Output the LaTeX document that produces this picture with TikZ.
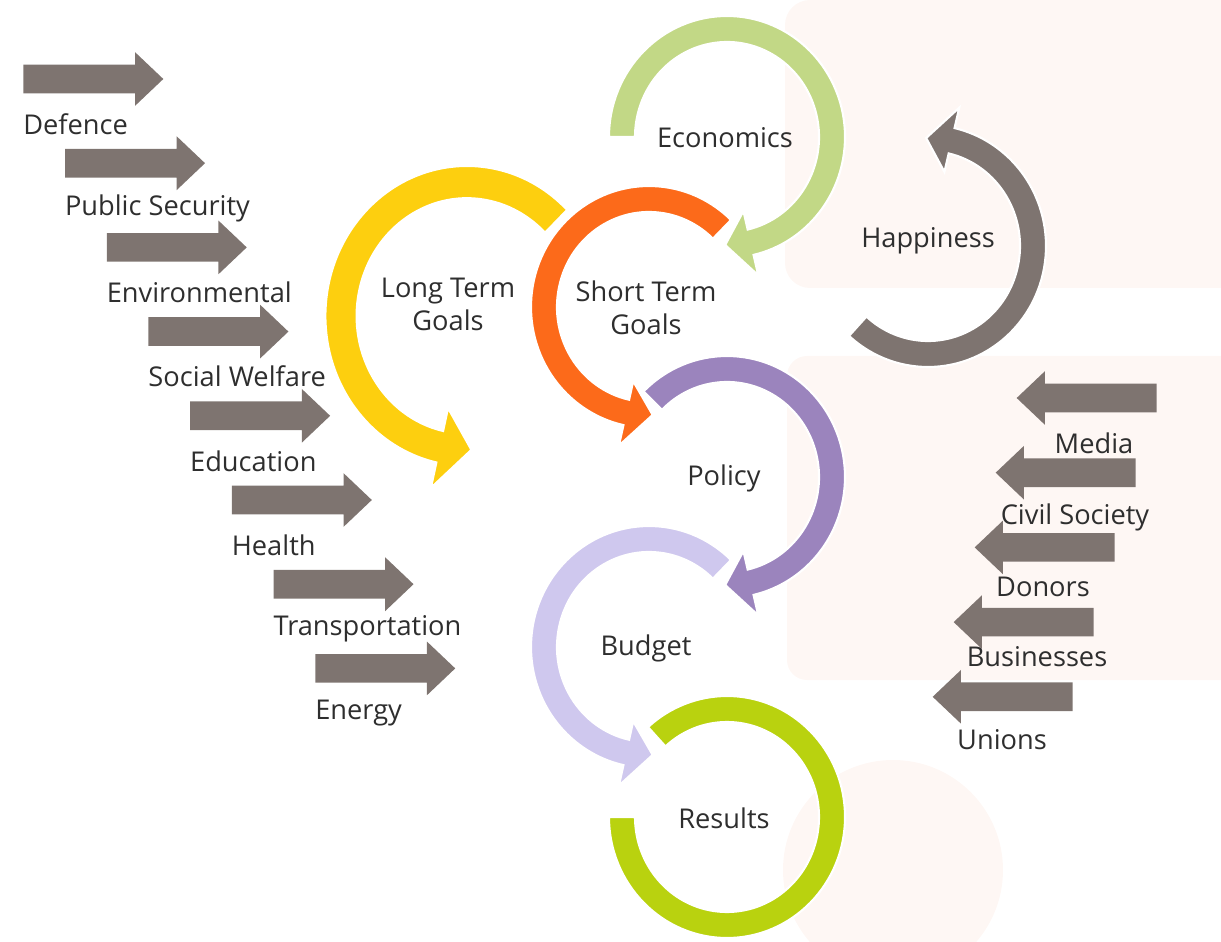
\documentclass[tikz,border=0pt]{standalone}
\usepackage{fontspec}
\setmainfont{Open Sans}
\usetikzlibrary{shapes.arrows}

\definecolor{ringyellow}{HTML}{FDCF0F}
\definecolor{ringorange}{HTML}{FC6A1A}
\definecolor{ringgreen}{HTML}{C2D886}
\definecolor{ringpurple}{HTML}{9B84BD}
\definecolor{ringlilac}{HTML}{CFC8EE}
\definecolor{ringlime}{HTML}{B9D20F}
\definecolor{arrowgrey}{HTML}{7E7470}
\definecolor{backpeach}{HTML}{FEF7F4}
\definecolor{labelgrey}{HTML}{2E2E2E}

% ring radii in px: outer, inner, middle, head corners
\def\Rxo{118}\def\Ryo{121}
\def\Rxi{92}\def\Ryi{95}
\def\Rxm{105}\def\Rym{108}
\def\Rxh{139}\def\Ryh{142}
\def\Rxj{73}\def\Ryj{76}

% #1 style, #2 start angle, #3 head base angle, #4 tip angle
\newcommand{\ringarrow}[4]{%
  \filldraw[#1] (#2:{\Rxo} and {\Ryo})
      arc[start angle=#2, end angle=#3, x radius=\Rxo, y radius=\Ryo]
      -- (#3:{\Rxh} and {\Ryh}) -- (#4:{\Rxm} and {\Rym})
      -- (#3:{\Rxj} and {\Ryj}) -- (#3:{\Rxi} and {\Ryi})
      arc[start angle=#3, end angle=#2, x radius=\Rxi, y radius=\Ryi]
      -- cycle;}

\begin{document}
\begin{tikzpicture}[x=0.02cm, y=-0.02cm,
        ring/.style = {draw=white, line width=1.2pt, fill=#1},
    ringlabel/.style = {text=labelgrey, align=center, inner sep=0pt,
                        font=\fontsize{15.5}{18.8}\selectfont},
    sidelabel/.style = {ringlabel, anchor=west},
   goalarrow/.style = {single arrow, fill=arrowgrey, draw=none,
                       inner xsep=0pt, inner ysep=0.28cm,
                       minimum height=2.8cm, single arrow head extend=0.25cm,
                       single arrow tip angle=87, anchor=tail},
  actorarrow/.style = {goalarrow, shape border rotate=180}
                        ]
    \useasboundingbox (0,0) rectangle (1221,942);
    % background
    \begin{scope}
        \clip (0,0) rectangle (1221,942);
        \fill[backpeach, rounded corners=0.5cm] (785,0) rectangle (1260,288);
        \fill[backpeach, rounded corners=0.4cm] (787,356) rectangle (1260,680);
        \fill[backpeach] (893,870) circle[radius=110];
    \end{scope}

    % policy areas on the left
    \foreach \name [count=\i from 0] in {Defence, Public Security, Environmental,
            Social Welfare, Education, Health, Transportation, Energy}
    {
        \node[goalarrow] (area\i) at ({23+41.7*\i},{79+84.2*\i}) {};
        \node[sidelabel] (arealabel\i) at ({23+41.7*\i},{124+84.2*\i}) {\name};
    }

    % actors on the right
    \foreach \name/\lx/\ly [count=\i from 0] in {Media/1094/443,
            Civil Society/1075/517, Donors/1043/587,
            Businesses/1037/657, Unions/1002/740}
        \node[actorarrow] (actor\i) at ({1157-21*\i},{398+74.7*\i}) {};
    \foreach \name/\lx/\ly [count=\i from 0] in {Media/1094/443,
            Civil Society/1075/517, Donors/1043/587,
            Businesses/1037/657, Unions/1002/740}
        \node[ringlabel] (actorlabel\i) at (\lx,\ly) {\name};

    % circular arrows
    \begin{scope}[shift={(467,316)}, xscale=1.2, yscale=1.24]
        \ringarrow{ring=ringyellow}{-45}{-257.5}{-272}
    \end{scope}
    \begin{scope}[shift={(649,307)}]
        \ringarrow{ring=ringorange}{-46}{-257.5}{-272}
    \end{scope}
    \begin{scope}[shift={(727,137)}]
        \ringarrow{ring=ringgreen}{180}{437}{451}
    \end{scope}
    \begin{scope}[shift={(928,246)}]
        \ringarrow{ring=arrowgrey}{132}{-77}{-91}
    \end{scope}
    \begin{scope}[shift={(727,477)}]
        \ringarrow{ring=ringpurple}{225}{437}{451}
    \end{scope}
    \begin{scope}[shift={(649,647)}]
        \ringarrow{ring=ringlilac}{-46}{-257.5}{-272}
    \end{scope}
    \begin{scope}[shift={(727,817)}]
        \filldraw[ring=ringlime] (180:{\Rxo} and {\Ryo})
            arc[start angle=180, end angle=-132, x radius=\Rxo, y radius=\Ryo]
            -- (-132:{\Rxi} and {\Ryi})
            arc[start angle=-132, end angle=180, x radius=\Rxi, y radius=\Ryi]
            -- cycle;
    \end{scope}

    % labels inside the rings
    \node[ringlabel] (longterm)  at (448,304) {Long Term\\Goals};
    \node[ringlabel] (shortterm) at (646,308) {Short Term\\Goals};
    \node[ringlabel] (economics) at (725,138) {Economics};
    \node[ringlabel] (happiness) at (928,241) {Happiness};
    \node[ringlabel] (policy)    at (724,478) {Policy};
    \node[ringlabel] (budget)    at (646,648) {Budget};
    \node[ringlabel] (results)   at (724,818) {Results};
\end{tikzpicture}
\end{document}
